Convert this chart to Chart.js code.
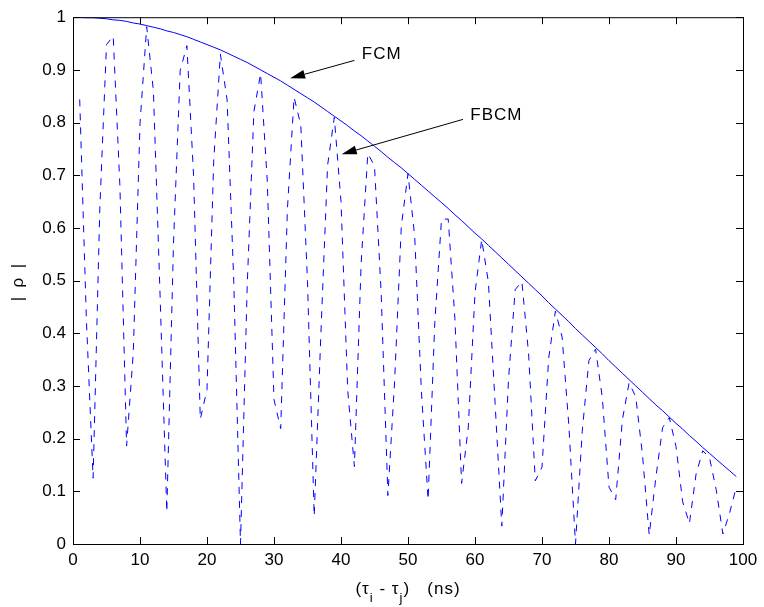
<!DOCTYPE html>
<html lang="en">
<head>
  <meta charset="UTF-8" />
  <title>FCM vs FBCM</title>
  <script src="https://cdn.jsdelivr.net/npm/chart.js"></script>
  <style>
    body {
      margin: 0;
      background: #ffffff;
    }
    canvas {
      display: block;
    }
  </style>
</head>
<body>
  <canvas id="rhoChart" width="764" height="607"></canvas>

  <script>
    // delay (ns)
    const delays = [
      0, 1, 2, 3, 4, 5, 6, 7, 8, 9,
      10, 11, 12, 13, 14, 15, 16, 17, 18, 19,
      20, 21, 22, 23, 24, 25, 26, 27, 28, 29,
      30, 31, 32, 33, 34, 35, 36, 37, 38, 39,
      40, 41, 42, 43, 44, 45, 46, 47, 48, 49,
      50, 51, 52, 53, 54, 55, 56, 57, 58, 59,
      60, 61, 62, 63, 64, 65, 66, 67, 68, 69,
      70, 71, 72, 73, 74, 75, 76, 77, 78, 79,
      80, 81, 82, 83, 84, 85, 86, 87, 88, 89,
      90, 91, 92, 93, 94, 95, 96, 97, 98, 99
    ];

    // |rho| for FCM (solid)
    const fcm = [
      1.000, 1.000, 0.999, 0.999, 0.998, 0.997, 0.995, 0.994, 0.992, 0.989,
      0.987, 0.984, 0.981, 0.978, 0.974, 0.971, 0.967, 0.963, 0.958, 0.953,
      0.948, 0.943, 0.938, 0.932, 0.926, 0.920, 0.914, 0.907, 0.900, 0.893,
      0.886, 0.879, 0.871, 0.863, 0.855, 0.847, 0.839, 0.830, 0.821, 0.812,
      0.803, 0.794, 0.784, 0.775, 0.765, 0.755, 0.745, 0.734, 0.724, 0.714,
      0.703, 0.692, 0.681, 0.670, 0.659, 0.648, 0.637, 0.625, 0.614, 0.602,
      0.590, 0.579, 0.567, 0.555, 0.543, 0.531, 0.519, 0.507, 0.495, 0.483,
      0.471, 0.458, 0.446, 0.434, 0.422, 0.409, 0.397, 0.385, 0.373, 0.361,
      0.348, 0.336, 0.324, 0.312, 0.300, 0.288, 0.276, 0.264, 0.253, 0.241,
      0.229, 0.218, 0.206, 0.195, 0.183, 0.172, 0.161, 0.150, 0.139, 0.128
    ];

    // |rho| for FBCM (dashed), starts at 1 ns
    const fbcm = [
      null,  0.844, 0.425, 0.125, 0.636, 0.948, 0.964, 0.680, 0.186, 0.364,
      0.798, 0.982, 0.860, 0.471, 0.061, 0.571, 0.899, 0.946, 0.698, 0.237,
      0.293, 0.727, 0.930, 0.843, 0.496, 0.000, 0.490, 0.821, 0.893, 0.688,
      0.274, 0.219, 0.635, 0.848, 0.795, 0.498, 0.053, 0.400, 0.719, 0.810,
      0.650, 0.292, 0.147, 0.531, 0.741, 0.718, 0.475, 0.092, 0.308, 0.603,
      0.703, 0.584, 0.290, 0.084, 0.420, 0.616, 0.617, 0.428, 0.115, 0.222,
      0.477, 0.578, 0.497, 0.267, 0.034, 0.312, 0.483, 0.498, 0.361, 0.120,
      0.146, 0.353, 0.442, 0.393, 0.226, 0.000, 0.213, 0.348, 0.370, 0.278,
      0.108, 0.084, 0.236, 0.306, 0.279, 0.169, 0.017, 0.127, 0.221, 0.240,
      0.185, 0.080, 0.039, 0.133, 0.177, 0.164, 0.103, 0.019, 0.059, 0.108
    ];

    const xTicks = [0, 10, 20, 30, 40, 50, 60, 70, 80, 90, 100];
    const yTicks = [0, 0.1, 0.2, 0.3, 0.4, 0.5, 0.6, 0.7, 0.8, 0.9, 1];

    // arrow notes, in data units
    const noteLabels = ['FCM', 'FBCM'];
    const noteTextAt = [[43.1, 0.929], [59.3, 0.814]];
    const noteTail = [[42.0, 0.918], [58.2, 0.806]];
    const noteTip = [[32.4, 0.884], [40.1, 0.740]];

    const FONT = '"Liberation Sans", Arial, sans-serif';

    const pts = arr => delays.map((d, i) => ({ x: d, y: arr[i] }));

    const frame = {
      id: 'frame',
      afterDraw(chart) {
        const { ctx, chartArea: a, scales } = chart;
        const xs = scales.x, ys = scales.y;
        ctx.save();
        ctx.strokeStyle = '#000';
        ctx.lineWidth = 1;

        // box + inward ticks
        ctx.strokeRect(a.left + 0.5, a.top + 0.5, a.right - a.left, a.bottom - a.top);
        ctx.beginPath();
        xTicks.forEach(v => {
          const px = Math.round(xs.getPixelForValue(v)) + 0.5;
          ctx.moveTo(px, a.bottom); ctx.lineTo(px, a.bottom - 7);
          ctx.moveTo(px, a.top); ctx.lineTo(px, a.top + 7);
        });
        yTicks.forEach(v => {
          const py = Math.round(ys.getPixelForValue(v)) + 0.5;
          ctx.moveTo(a.left, py); ctx.lineTo(a.left + 7, py);
          ctx.moveTo(a.right, py); ctx.lineTo(a.right - 7, py);
        });
        ctx.stroke();

        // x axis title with subscripts
        ctx.fillStyle = '#000';
        ctx.textBaseline = 'alphabetic';
        ctx.letterSpacing = '1px';
        const parts = [
          ['(\u03C4', 0], ['i', 1], [' - \u03C4', 0], ['j', 1], [')   (ns)', 0]
        ];
        const big = '17px ' + FONT, small = '13px ' + FONT;
        let total = 0;
        parts.forEach(([t, s]) => { ctx.font = s ? small : big; total += ctx.measureText(t).width; });
        let cx = (a.left + a.right) / 2 - total / 2;
        const baseY = 594;
        parts.forEach(([t, s]) => {
          ctx.font = s ? small : big;
          ctx.fillText(t, cx, s ? baseY + 8 : baseY);
          cx += ctx.measureText(t).width;
        });

        // y axis title
        ctx.save();
        ctx.translate(23, (a.top + a.bottom) / 2 + 2);
        ctx.rotate(-Math.PI / 2);
        ctx.font = '17px ' + FONT;
        ctx.letterSpacing = '0px';
        ctx.textAlign = 'center';
        ctx.fillText('|  \u03C1  |', 0, 0);
        ctx.restore();

        // notes with arrows
        ctx.font = '17px ' + FONT;
        ctx.letterSpacing = '1px';
        ctx.textBaseline = 'middle';
        noteLabels.forEach((lab, i) => {
          ctx.fillText(lab, xs.getPixelForValue(noteTextAt[i][0]), ys.getPixelForValue(noteTextAt[i][1]));
          const x1 = xs.getPixelForValue(noteTail[i][0]), y1 = ys.getPixelForValue(noteTail[i][1]);
          const x2 = xs.getPixelForValue(noteTip[i][0]), y2 = ys.getPixelForValue(noteTip[i][1]);
          const ang = Math.atan2(y2 - y1, x2 - x1);
          const len = 15, half = 4.5;
          const bx = x2 - len * Math.cos(ang), by = y2 - len * Math.sin(ang);
          ctx.beginPath();
          ctx.moveTo(x1, y1); ctx.lineTo(bx, by);
          ctx.stroke();
          ctx.beginPath();
          ctx.moveTo(x2, y2);
          ctx.lineTo(bx + half * Math.sin(ang), by - half * Math.cos(ang));
          ctx.lineTo(bx - half * Math.sin(ang), by + half * Math.cos(ang));
          ctx.closePath();
          ctx.fill();
        });
        ctx.restore();
      }
    };

    new Chart(document.getElementById('rhoChart'), {
      type: 'line',
      data: {
        datasets: [
          {
            label: 'FCM',
            data: pts(fcm),
            borderColor: '#0000ff',
            borderWidth: 1,
            pointRadius: 0,
            tension: 0
          },
          {
            label: 'FBCM',
            data: pts(fbcm),
            borderColor: '#0000ff',
            borderWidth: 1,
            borderDash: [7, 7],
            pointRadius: 0,
            tension: 0,
            spanGaps: false
          }
        ]
      },
      options: {
        responsive: false,
        animation: false,
        layout: { padding: { top: 16, right: 21, left: 0, bottom: 0 } },
        plugins: {
          legend: { display: false },
          tooltip: { enabled: false }
        },
        scales: {
          x: {
            type: 'linear',
            min: 0,
            max: 100,
            grid: { display: false, drawTicks: false },
            border: { display: false },
            ticks: {
              color: '#000',
              font: { family: FONT, size: 17 },
              padding: 6,
              maxRotation: 0,
              autoSkip: false
            },
            afterBuildTicks: s => { s.ticks = xTicks.map(v => ({ value: v })); },
            afterFit: s => { s.height = 63; }
          },
          y: {
            type: 'linear',
            min: 0,
            max: 1,
            grid: { display: false, drawTicks: false },
            border: { display: false },
            ticks: {
              color: '#000',
              font: { family: FONT, size: 17 },
              padding: 7,
              autoSkip: false,
              callback: v => String(v)
            },
            afterBuildTicks: s => { s.ticks = yTicks.map(v => ({ value: v })); },
            afterFit: s => { s.width = 73; }
          }
        }
      },
      plugins: [frame]
    });
  </script>
</body>
</html>
